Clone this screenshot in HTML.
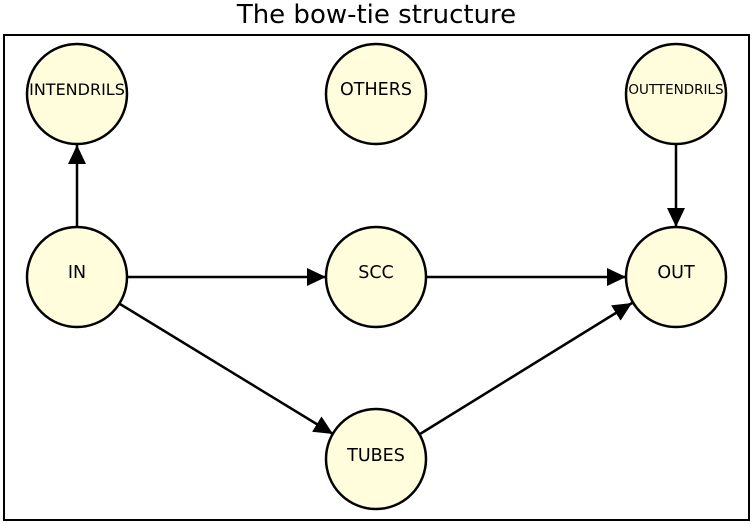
<!DOCTYPE html>
<html><head><style>body{margin:0;background:#fff}svg{display:block}</style></head><body>
<svg width="753" height="524" xmlns="http://www.w3.org/2000/svg" font-family="DejaVu Sans, Liberation Sans, sans-serif">
<defs><marker id="a" markerWidth="19" markerHeight="18" refX="19" refY="9" orient="auto" markerUnits="userSpaceOnUse"><path d="M0,0 L19,9 L0,18 Z" fill="#000"/></marker></defs>
<text x="376.5" y="23" font-size="26" text-anchor="middle">The bow-tie structure</text>
<rect x="4" y="35" width="745" height="485" fill="none" stroke="#000" stroke-width="2"/>
<g stroke="#000" stroke-width="2.5" marker-end="url(#a)">
<line x1="77" y1="227" x2="77" y2="145"/>
<line x1="127" y1="277" x2="326" y2="277"/>
<line x1="426" y1="277" x2="626" y2="277"/>
<line x1="676" y1="144" x2="676" y2="227"/>
<line x1="120" y1="304" x2="333" y2="434"/>
<line x1="420" y1="434" x2="632" y2="303"/>
</g>
<g fill="#fffddc" stroke="#000" stroke-width="2.5">
<circle cx="77" cy="94" r="50"/><circle cx="376" cy="94" r="50"/><circle cx="676" cy="94" r="50"/>
<circle cx="77" cy="277" r="50"/><circle cx="376" cy="277" r="50"/><circle cx="676" cy="277" r="50"/>
<circle cx="376" cy="459" r="50"/>
</g>
<g text-anchor="middle" fill="#000">
<text x="77" y="95" font-size="16">INTENDRILS</text>
<text x="376" y="95" font-size="17.5">OTHERS</text>
<text x="676" y="94" font-size="13.5">OUTTENDRILS</text>
<text x="77" y="278" font-size="17.5">IN</text>
<text x="376" y="278" font-size="17.5">SCC</text>
<text x="676" y="278" font-size="17.5">OUT</text>
<text x="376" y="461" font-size="17.5">TUBES</text>
</g>
</svg>
</body></html>
